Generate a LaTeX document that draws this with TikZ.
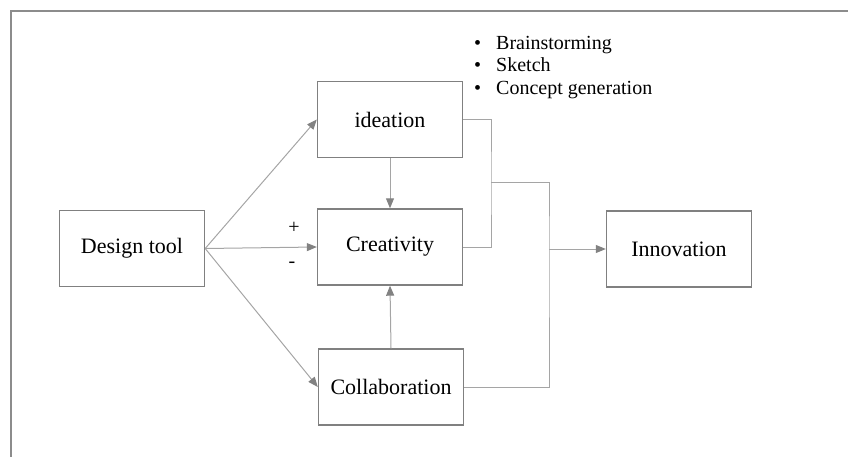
\documentclass[tikz,border=0pt]{standalone}
\usepackage{fontspec}
\setmainfont{Liberation Serif}
\usetikzlibrary{arrows.meta,positioning}
\definecolor{BoxGray}  {RGB}{128,128,128}
\definecolor{LinkGray} {RGB}{165,165,165}
\definecolor{TipGray}  {RGB}{130,130,130}
\definecolor{FrameGray}{RGB}{140,140,140}
\tikzset{
  cbox/.style={rectangle,draw=BoxGray,line width=1.4pt,fill=white,
               minimum width=145pt,minimum height=76pt,inner sep=0pt,
               font=\fontsize{22}{26}\selectfont},
  link/.style={draw=LinkGray,line width=1pt},
  larr/.style={link,-{Triangle[length=10pt,width=8pt,fill=TipGray,color=TipGray]}},
  sign/.style={font=\fontsize{20}{24}\selectfont},
}

\begin{document}
\begin{tikzpicture}[x=1pt,y=-1pt]

  \useasboundingbox (0,0) rectangle (848,457);
  \draw[FrameGray,line width=1.4pt] (11,458) -- (11,11) -- (849,11);

  % boxes
  \node[cbox] (design)     at (132,248.5) {Design tool};
  \node[cbox] (ideation)   at (390,119.5) {ideation};
  \node[cbox] (creativity) at (390,247)   {Creativity};
  \node[cbox] (collab)     at (391,387)   {Collaboration};
  \node[cbox] (innov)      at (679,249)   {Innovation};

  % ideation activities
  \node[anchor=west,font=\fontsize{20}{22.5}\selectfont,inner sep=0pt] (ideas) at (474,67.5)
    {\begin{tabular}{@{}l@{\hspace{15pt}}l@{}}
      \textbullet & Brainstorming\\
      \textbullet & Sketch\\
      \textbullet & Concept generation
    \end{tabular}};

  % effects of the design tool
  \draw[larr] (design.east) -- (ideation.west);
  \draw[larr] (design.east) -- (creativity.west);
  \draw[larr] (design.east) -- (collab.west);
  \node[sign] (plus)  at (294,228) {+};
  \node[sign] (minus) at (292,265) {-};

  \draw[larr] (ideation.south) -- (creativity.north);
  \draw[larr] (collab.north) -- (creativity.south);

  % towards innovation
  \coordinate (joinA) at (491,183);
  \coordinate (joinB) at (549,249);
  \draw[link] (ideation.east) -| (joinA) |- (creativity.east);
  \draw[link] (joinA) -| (joinB) |- (collab.east);
  \draw[larr] (joinB) -- (innov.west);

\end{tikzpicture}
\end{document}
